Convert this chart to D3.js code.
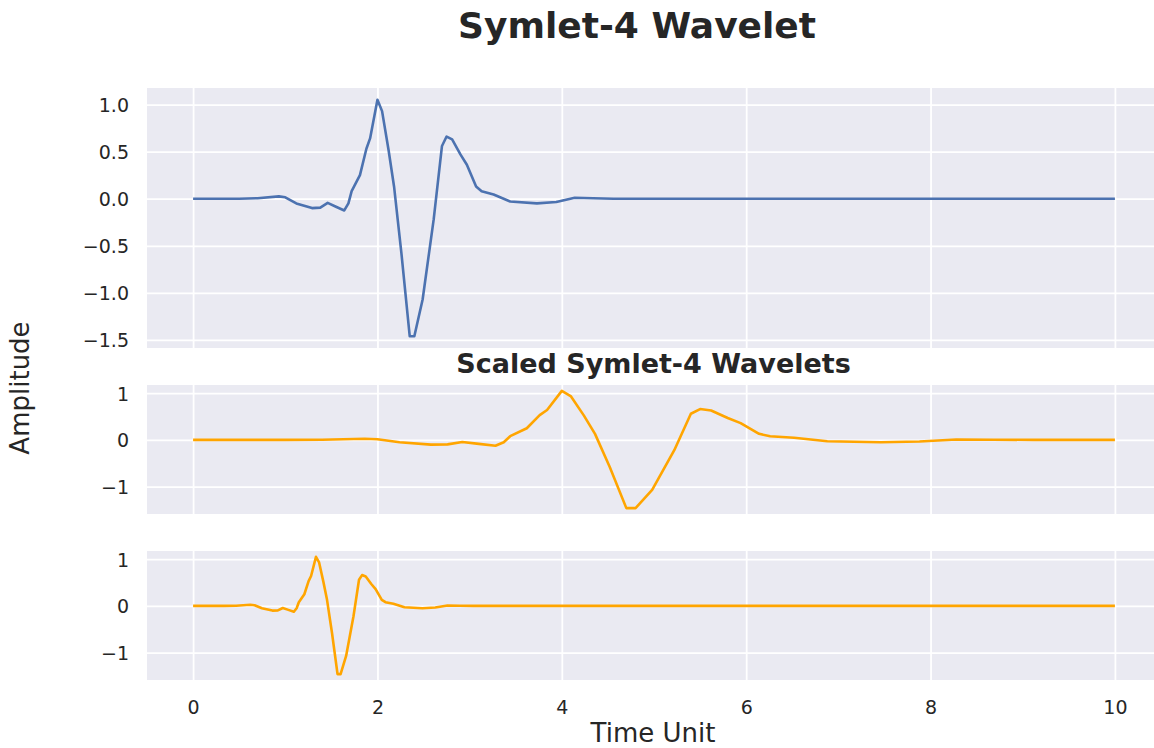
<!DOCTYPE html>
<html>
<head>
<meta charset="utf-8">
<script src="https://cdn.jsdelivr.net/npm/d3@7"></script>
<style>
  html, body { margin: 0; padding: 0; background: #ffffff; }
  svg { display: block; }
  text { font-family: "DejaVu Sans", sans-serif; fill: #262626; }
</style>
</head>
<body>
<div id="chart"></div>
<script>
// ---------------- data ----------------
const amplitude = [0, 0, 0.005, 0.025, 0.015, -0.05, -0.10, -0.095, -0.045, -0.085, -0.125, -0.05, 0.08, 0.25, 0.53, 0.64,
  1.05, 0.93, 0.52, 0.13, -0.58, -1.46, -1.46, -1.07, -0.22, 0.56, 0.66, 0.63, 0.47, 0.36, 0.13, 0.08, 0.045,
  -0.03, -0.05, -0.035, 0.01, 0.005, 0, 0];

const timeOriginal = [0, 0.50, 0.70, 0.93, 1.00, 1.12, 1.29, 1.38, 1.46, 1.55, 1.64, 1.685, 1.72, 1.81, 1.88, 1.92,
  2.00, 2.05, 2.12, 2.18, 2.26, 2.35, 2.40, 2.49, 2.61, 2.70, 2.75, 2.81, 2.90, 2.97, 3.07, 3.13, 3.26,
  3.44, 3.73, 3.94, 4.14, 4.34, 4.56, 10];

const timeStretched = [0, 1.00, 1.40, 1.86, 2.00, 2.24, 2.58, 2.76, 2.92, 3.10, 3.28, 3.37, 3.44, 3.62, 3.76, 3.84,
  4.00, 4.10, 4.24, 4.36, 4.52, 4.70, 4.80, 4.98, 5.22, 5.40, 5.50, 5.62, 5.80, 5.94, 6.14, 6.26, 6.52,
  6.88, 7.46, 7.88, 8.28, 8.68, 9.12, 10];

const timeCompressed = [0, 0.333, 0.467, 0.62, 0.667, 0.747, 0.86, 0.92, 0.973, 1.033, 1.093, 1.123, 1.147, 1.207, 1.253, 1.28,
  1.333, 1.367, 1.413, 1.453, 1.507, 1.567, 1.60, 1.66, 1.74, 1.80, 1.833, 1.873, 1.933, 1.98, 2.047, 2.087, 2.173,
  2.293, 2.487, 2.627, 2.76, 2.893, 3.04, 10];

const xTicks = [0, 2, 4, 6, 8, 10];
const yTicksTop = [-1.5, -1.0, -0.5, 0.0, 0.5, 1.0];
const yTicksScaled = [-1, 0, 1];

const mainTitle = "Symlet-4 Wavelet";
const subTitle = "Scaled Symlet-4 Wavelets";
const xLabel = "Time Unit";
const yLabel = "Amplitude";

// ---------------- layout ----------------
const W = 1154, H = 748;
const left = 147, right = 1161;
const panels = [
  { top: 88,  bottom: 348, time: timeOriginal,   color: "#4C72B0", ticks: yTicksTop,    fmt: d3.format(".1f") },
  { top: 385, bottom: 514, time: timeStretched,  color: "#FFA500", ticks: yTicksScaled, fmt: d3.format("d") },
  { top: 551, bottom: 680, time: timeCompressed, color: "#FFA500", ticks: yTicksScaled, fmt: d3.format("d") }
];

const svg = d3.select("#chart").append("svg")
  .attr("width", W).attr("height", H).attr("viewBox", `0 0 ${W} ${H}`);

// matplotlib-like 5% margins
const tExt = [0, 10];
const tPad = (tExt[1] - tExt[0]) * 0.05;
const x = d3.scaleLinear().domain([tExt[0] - tPad, tExt[1] + tPad]).range([left, right]);
const aExt = d3.extent(amplitude);
const aPad = (aExt[1] - aExt[0]) * 0.05;
const yDomain = [aExt[0] - aPad, aExt[1] + aPad];

const minus = s => s.replace("-", "\u2212");

panels.forEach((p, i) => {
  const y = d3.scaleLinear().domain(yDomain).range([p.bottom, p.top]);
  const g = svg.append("g");

  g.append("rect")
    .attr("x", left).attr("y", p.top)
    .attr("width", right - left).attr("height", p.bottom - p.top)
    .attr("fill", "#EAEAF2");

  const clipId = "clip" + i;
  svg.append("clipPath").attr("id", clipId).append("rect")
    .attr("x", left).attr("y", p.top)
    .attr("width", right - left).attr("height", p.bottom - p.top);

  // grid via axes
  const gx = g.append("g")
    .attr("transform", `translate(0,${p.bottom})`)
    .call(d3.axisBottom(x).tickValues(xTicks).tickSize(-(p.bottom - p.top)).tickFormat(i === 2 ? d3.format("d") : ""));
  gx.select(".domain").remove();
  gx.selectAll(".tick line").attr("stroke", "#ffffff").attr("stroke-width", 1.8);
  gx.selectAll(".tick text")
    .attr("y", 0).attr("dy", 0)
    .attr("transform", "translate(0,33.5)")
    .style("font-size", "19px").attr("fill", "#262626");

  const gy = g.append("g")
    .attr("transform", `translate(${left},0)`)
    .call(d3.axisLeft(y).tickValues(p.ticks).tickSize(-(right - left)).tickFormat(d => minus(p.fmt(d))));
  gy.select(".domain").remove();
  gy.selectAll(".tick line").attr("stroke", "#ffffff").attr("stroke-width", 1.8);
  gy.selectAll(".tick text")
    .attr("x", -18).attr("dy", "0.36em")
    .style("font-size", "19px").attr("fill", "#262626");

  const line = d3.line()
    .x((d, k) => x(p.time[k]))
    .y(d => y(d));

  g.append("path")
    .datum(amplitude)
    .attr("clip-path", `url(#${clipId})`)
    .attr("fill", "none")
    .attr("stroke", p.color)
    .attr("stroke-width", 2.6)
    .attr("stroke-linejoin", "round")
    .attr("stroke-linecap", "butt")
    .attr("d", line);
});

// titles and labels
svg.append("text")
  .attr("x", 637).attr("y", 38)
  .attr("text-anchor", "middle")
  .style("font-size", "36px").style("font-weight", "bold")
  .text(mainTitle);

svg.append("text")
  .attr("x", (left + right) / 2 - 0.5).attr("y", 373)
  .attr("text-anchor", "middle")
  .style("font-size", "27px").style("font-weight", "bold")
  .text(subTitle);

svg.append("text")
  .attr("x", 653).attr("y", 742)
  .attr("text-anchor", "middle")
  .style("font-size", "26px")
  .text(xLabel);

svg.append("text")
  .attr("transform", "translate(29,388) rotate(-90)")
  .attr("text-anchor", "middle")
  .style("font-size", "26px")
  .text(yLabel);
</script>
</body>
</html>
